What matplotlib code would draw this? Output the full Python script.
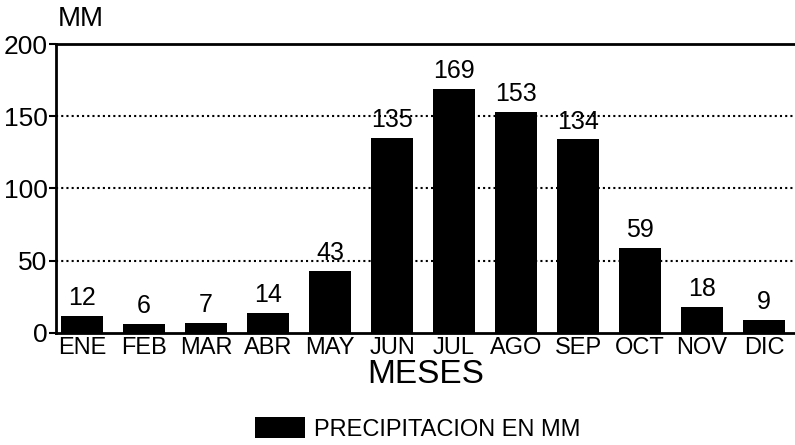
import numpy as np
import matplotlib.pyplot as plt
from matplotlib.patches import Patch

meses = ["ENE", "FEB", "MAR", "ABR", "MAY", "JUN", "JUL", "AGO", "SEP", "OCT", "NOV", "DIC"]
precip = [12, 6, 7, 14, 43, 135, 169, 153, 134, 59, 18, 9]

plt.rcParams['font.family'] = ['Liberation Sans', 'DejaVu Sans']

fig = plt.figure(figsize=(7.95, 4.45), dpi=100)
ax = fig.add_axes([0.0704, 0.252, 0.9296, 0.649])

x = np.arange(len(meses))
bars = ax.bar(x, precip, width=0.68, color="black")
for b, v in zip(bars, precip):
    ax.text(b.get_x() + b.get_width() / 2, v + 4, str(v), ha="center", va="bottom", fontsize=18)

ax.set_xlim(-0.42, 11.5)
ax.set_ylim(0, 200)
ax.set_yticks([0, 50, 100, 150, 200])
ax.set_xticks(x)
ax.set_xticklabels(meses)
ax.tick_params(axis="x", length=0, labelsize=17, pad=3)
ax.tick_params(axis="y", length=5, width=1.5, labelsize=19, pad=1)
for y in [50, 100, 150]:
    ax.axhline(y, color="black", ls=(0, (1, 1.5)), lw=1.5, zorder=0)

ax.spines["right"].set_visible(False)
for s in ["left", "bottom", "top"]:
    ax.spines[s].set_linewidth(2)

ax.set_xlabel("MESES", fontsize=24, labelpad=0)
fig.text(0.073, 0.957, "MM", fontsize=20, ha="left", va="center")

handle = Patch(facecolor="black")
fig.legend([handle], ["PRECIPITACION EN MM"], loc="center", bbox_to_anchor=(0.526, 0.036),
           frameon=False, fontsize=17, handlelength=2.1, handleheight=1.0, handletextpad=0.4,
           borderpad=0)

plt.savefig("out.png", dpi=100)
